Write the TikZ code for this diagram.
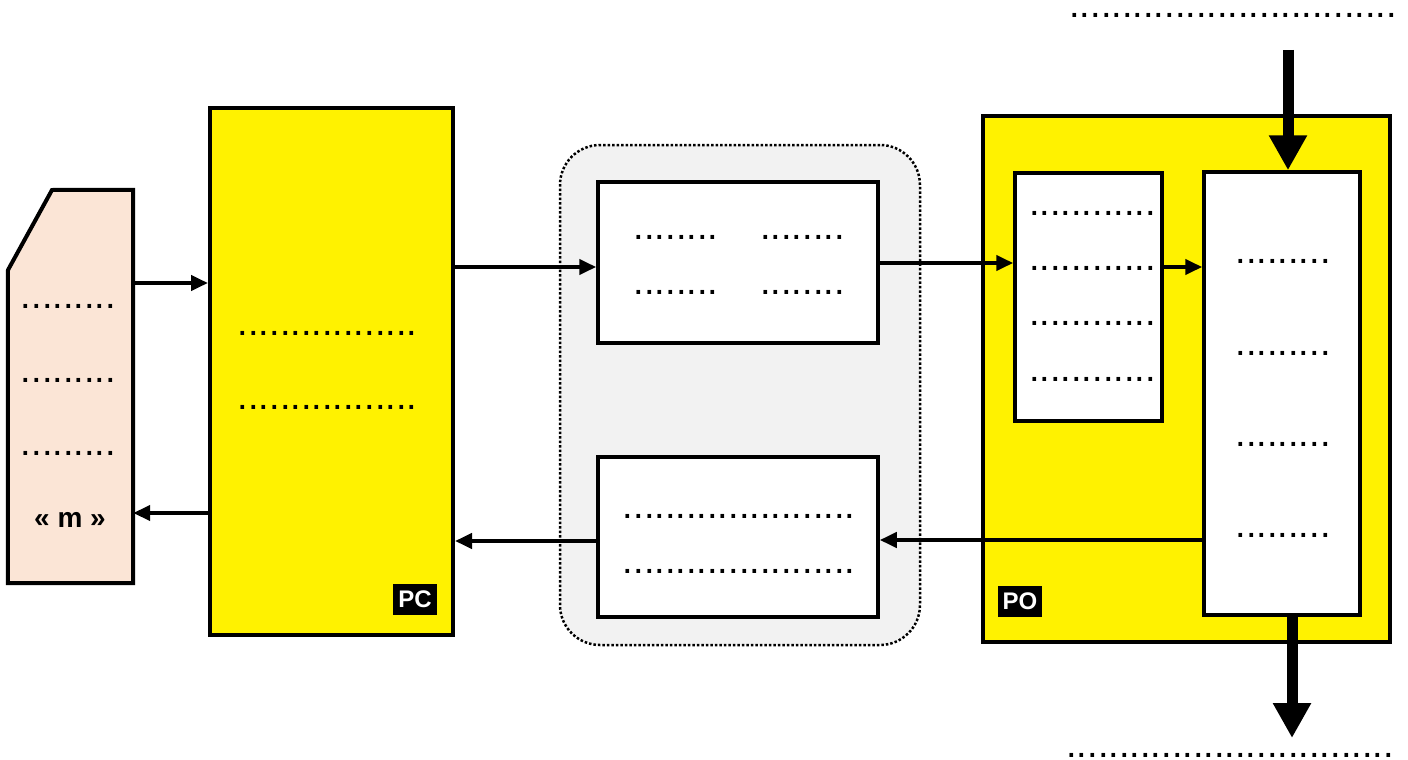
\documentclass[tikz,border=0pt]{standalone}
\usepackage{fontspec}
\setmainfont{Liberation Sans}
\usetikzlibrary{arrows.meta}
\definecolor{cardFill}{RGB}{251,229,214}
\definecolor{linkFill}{RGB}{242,242,242}
\begin{document}
\begin{tikzpicture}[x=1pt,y=-1pt,
    unitBk/.style={rectangle,draw=black,line width=4pt,fill=yellow,inner sep=0pt},
    regBk/.style={rectangle,draw=black,line width=3.5pt,fill=white,inner sep=0pt},
    tagLbl/.style={rectangle,fill=black,text=white,inner xsep=5pt,inner ysep=7pt,font=\fontsize{24}{24}\selectfont\bfseries},
    dotTxt/.style={inner sep=0pt,font=\fontsize{38}{38}\selectfont},
    sigArr/.style={-{Triangle[length=17pt,width=15pt]},line width=4pt},
    busArr/.style={-{Triangle[length=35pt,width=36pt]},line width=11pt},
]
\useasboundingbox (0,0) rectangle (1408,760);
% link box in the middle
\node[rectangle,draw=black,dotted,line width=2.5pt,rounded corners=40pt,fill=linkFill,
      minimum width=360pt,minimum height=500pt] (link) at (740,395) {};
\node[regBk,minimum width=280pt,minimum height=161pt] (boxA) at (738,262.5) {};
\node[regBk,minimum width=280pt,minimum height=160pt] (boxB) at (738,537) {};
% control part and operative part
\node[unitBk,minimum width=243pt,minimum height=527pt] (PC) at (331.5,371.5) {};
\node[unitBk,minimum width=407pt,minimum height=526pt] (PO) at (1186.5,379) {};
\node[regBk,minimum width=147pt,minimum height=248pt] (boxC) at (1088.5,297) {};
\node[regBk,minimum width=156pt,minimum height=443pt] (boxD) at (1282,393.5) {};
\node[tagLbl] (PCtag) at (415,599) {PC};
\node[tagLbl] (POtag) at (1020,601) {PO};
% card
\node[minimum width=125pt,minimum height=393pt,inner sep=0pt] (card) at (70.5,386.5) {};
\filldraw[fill=cardFill,draw=black,line width=4pt,line join=miter]
    (52,190) -- (card.north east) -- (card.south east) -- (card.south west) -- (8,270) -- cycle;
\node[dotTxt] (k1) at (68.5,306) {.........};
\node[dotTxt] (k2) at (68.5,380) {.........};
\node[dotTxt] (k3) at (68.5,453) {.........};
\node[font=\fontsize{28}{28}\selectfont\bfseries] (km) at (70,520) {« m »};
% texts in the boxes
\node[dotTxt] (p1) at (327.5,333) {.................};
\node[dotTxt] (p2) at (327.5,407) {.................};
\node[dotTxt] (a1) at (676,237) {........};
\node[dotTxt] (a2) at (802.5,237) {........};
\node[dotTxt] (a3) at (676,292) {........};
\node[dotTxt] (a4) at (802.5,292) {........};
\node[dotTxt] (b1) at (739,516) {......................};
\node[dotTxt] (b2) at (739,571) {......................};
\foreach \yy [count=\i] in {213,268,323,379}
    \node[dotTxt] (c\i) at (1092.5,\yy) {............};
\foreach \yy [count=\i] in {261,353,444,535}
    \node[dotTxt] (d\i) at (1283,\yy) {.........};
\node[dotTxt] (inTxt) at (1233,15) {...............................};
\node[dotTxt] (outTxt) at (1230,755) {...............................};
\coordinate (inTop) at (1288,50);
\coordinate (outBot) at (1292,738);
% signals
\draw[sigArr] (card.east |- 0,283) -- (PC.west |- 0,283);
\draw[sigArr] (PC.west |- 0,513) -- (card.east |- 0,513);
\draw[sigArr] (PC.east |- 0,267) -- (boxA.west |- 0,267);
\draw[sigArr] (boxA.east |- 0,263) -- (boxC.west |- 0,263);
\draw[sigArr] (boxC.east |- 0,267) -- (boxD.west |- 0,267);
\draw[sigArr] (boxD.west |- 0,540) -- (boxB.east |- 0,540);
\draw[sigArr] (boxB.west |- 0,541) -- (PC.east |- 0,541);
% data in and out
\draw[busArr] (inTop) -- (inTop |- boxD.north);
\draw[busArr] (outBot |- boxD.south) -- (outBot);
\end{tikzpicture}
\end{document}
